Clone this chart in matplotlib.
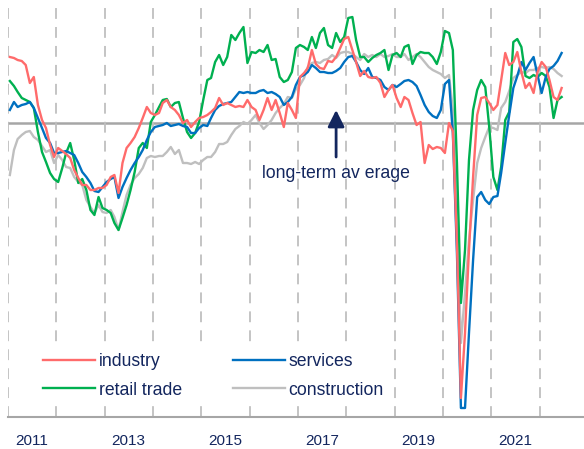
import matplotlib
matplotlib.use("Agg")
import matplotlib.pyplot as plt
import matplotlib.dates as mdates
import pandas as pd

# monthly values, Jan 2011 - Jun 2022 (deviation from long-term average)
months = pd.date_range("2011-01-01", periods=138, freq="MS") + pd.Timedelta(days=14)

industry = [
    6.6, 6.5, 6.3, 6.2, 5.8, 4.0, 4.6, 1.8, 0.3, -0.5, -2.2, -3.4, -2.5, -2.8, -3.1, -3.5, -4.7, -5.5, -6.2,
    -6.2, -6.7, -6.7, -6.5, -6.5, -6.2, -5.4, -5.2, -7.0, -4.0, -2.5, -2.0, -1.4, -0.5, 0.5, 1.6, 1.0, 0.8, 1.0, 2.0,
    2.3, 1.6, 1.3, 0.8, 0.0, 0.3, -0.4, 0.1, 0.5, 0.6, 0.8, 1.1, 1.5, 2.5, 1.8, 2.0, 1.8, 1.6, 1.7, 1.6, 2.3,
    1.6, 1.3, 0.3, 1.3, 2.5, 1.3, 2.3, 1.0, -0.4, 2.0, 1.3, 0.5, 4.6,
    5.0, 5.5, 7.3, 5.9, 5.5, 5.4, 6.2, 6.1, 6.6, 7.5, 8.4, 8.6, 7.3, 6.1, 4.7, 5.2, 4.6, 4.5, 4.6, 4.0, 2.6,
    3.3, 3.8, 2.5, 1.6, 2.6, 2.3, 1.0, -0.2, 0.1, -4.0, -2.2, -2.6, -2.4, -2.5, -3.0,
    0.0, -0.8, -12.0, -27.5, -21.0, -12.7, -5.4, 0.8, 2.5, 2.6, 2.0, 1.3, 1.8, 4.3, 7.0, 5.8, 6.1, 7.1, 5.1,
    3.5, 4.0, 3.0, 5.1, 6.1, 5.6, 4.3, 2.6, 2.3, 3.5,
]
services = [
    1.3, 2.1, 1.6, 1.8, 1.9, 2.1, 1.5, 0.5, -0.5, -1.5, -2.0, -3.0, -3.0, -2.9, -2.8, -3.0, -3.2, -4.0, -4.9,
    -5.4, -6.0, -6.8, -6.9, -6.4, -5.9, -5.6, -5.4, -7.5, -6.4, -5.5, -4.7, -4.0, -3.4, -2.7, -1.7, -0.9, -0.4, -0.3, -0.2,
    0.0, -0.3, -0.2, -0.1, -0.3, -0.4, -1.0, -1.0, -0.5, -0.2, -0.3, 0.5, 1.3, 1.7, 1.9, 2.0, 2.1, 2.6, 3.1, 3.0,
    3.1, 3.0, 3.0, 3.2, 3.3, 3.0, 3.1, 2.9, 2.6, 1.8, 2.1, 2.6, 3.8, 4.6,
    4.8, 5.1, 5.8, 5.5, 5.1, 5.1, 5.0, 5.0, 5.2, 5.5, 6.1, 6.6, 6.7, 6.1, 5.3, 4.9, 5.5, 4.6, 4.5, 4.3, 3.6,
    3.3, 3.8, 3.6, 3.9, 4.2, 4.3, 4.1, 3.7, 2.8, 1.8, 1.1, 0.7, 0.5, 1.3, 3.9,
    4.3, -1.0, -13.0, -28.5, -28.5, -21.0, -13.7, -7.4, -6.9, -7.7, -8.1, -7.4, -7.3, -5.0, -2.0, 0.8, 3.5, 4.7,
    6.1, 5.3, 6.0, 6.6, 4.8, 3.0, 4.6, 5.4, 5.7, 6.2, 7.0,
]
retail = [
    4.2, 3.7, 3.1, 2.5, 2.3, 2.1, 1.5, -0.9, -2.9, -3.9, -5.0, -5.6, -5.9, -4.5, -3.0, -2.0, -3.7, -6.0, -5.6,
    -6.7, -8.7, -9.2, -7.4, -8.5, -8.7, -9.0, -10.0, -10.7, -9.5, -8.2, -6.7, -4.9, -2.5, -2.0, -2.5, 0.1, 0.8, 1.6, 2.3,
    2.4, 1.6, 2.0, 2.1, 0.5, -0.9, -1.5, -1.0, 0.1, 2.3, 4.3, 4.5, 6.1, 6.8, 5.8, 6.6, 8.8, 8.3, 9.0, 9.6,
    6.0, 7.1, 7.0, 7.3, 7.1, 7.8, 6.3, 6.4, 4.6, 4.1, 4.3, 5.1, 7.5, 7.8,
    7.6, 7.3, 8.6, 7.5, 9.0, 9.5, 7.8, 7.5, 9.0, 8.1, 8.6, 10.5, 10.6, 8.3, 6.6, 6.6, 6.1, 6.5, 6.8, 7.0, 7.3,
    5.3, 6.8, 7.0, 6.6, 7.6, 7.8, 5.9, 6.8, 7.1, 7.0, 7.0, 6.6, 5.9, 7.1, 9.2,
    9.0, 7.3, -4.0, -18.0, -12.7, -3.7, 1.3, 3.3, 4.3, 3.6, -0.4, -5.4, -6.7, -4.4, 0.3, 1.1, 8.1, 8.4,
    7.6, 4.7, 4.5, 4.8, 4.6, 5.0, 4.7, 3.6, 0.5, 2.3, 2.6,
]
construction = [
    -5.2, -2.7, -1.6, -1.2, -0.9, -0.8, -1.4, -1.7, -2.3, -2.9, -2.7, -4.0, -3.2, -3.7, -4.4, -4.5, -5.4, -5.9, -6.2,
    -7.7, -8.4, -9.0, -8.2, -8.9, -9.0, -8.7, -9.4, -10.7, -8.9, -7.2, -6.2, -5.5, -5.1, -4.5, -3.5, -3.3, -3.4, -3.3, -3.3,
    -2.9, -2.4, -3.1, -2.7, -4.0, -4.0, -4.1, -3.9, -4.1, -3.7, -3.4, -3.4, -2.9, -2.1, -2.1, -1.9, -1.2, -0.6, -0.3, 0.1,
    -0.1, 0.3, 0.8, 0.0, -0.6, -0.2, 0.3, 1.0, 1.5, 1.9, 2.6, 2.5, 3.4, 3.8,
    4.5, 5.6, 6.0, 6.1, 6.0, 6.3, 6.4, 6.8, 6.5, 7.0, 7.1, 7.1, 6.9, 6.6, 6.3, 6.9, 6.6, 6.8, 6.6, 6.9, 6.6,
    6.7, 6.9, 6.6, 6.6, 6.9, 6.3, 6.6, 6.9, 6.6, 6.1, 5.6, 5.3, 5.1, 4.9, 4.5,
    4.8, 1.3, -9.4, -22.0, -17.0, -11.7, -7.7, -4.0, -2.5, -1.4, -0.4, -0.5, -0.7, 1.5, 2.1, 3.2, 4.5, 4.8,
    5.1, 5.0, 5.3, 5.3, 5.5, 5.6, 5.5, 5.6, 5.4, 5.0, 4.7,
]

year_labels = ["2011", "2013", "2015", "2017", "2019", "2021"]
arrow_date = pd.Timestamp("2017-10-15")

navy = "#13265e"
plt.rcParams["font.family"] = ["Liberation Sans", "DejaVu Sans"]

fig = plt.figure(figsize=(5.84, 4.49), dpi=100)
ax = fig.add_axes([8 / 584, 32 / 449, 576 / 584, 417 / 449])

ax.axhline(0, color="#a6a6a6", lw=1.8, zorder=1)

l4, = ax.plot(months, construction, color="#bfbfbf", lw=1.7, zorder=2, label="construction")
l2, = ax.plot(months, retail, color="#00b050", lw=1.7, zorder=3, label="retail trade")
l3, = ax.plot(months, services, color="#0070c0", lw=1.7, zorder=4, label="services")
l1, = ax.plot(months, industry, color="#ff6b6b", lw=1.7, zorder=5, label="industry")

ax.set_xlim(pd.Timestamp("2011-01-01"), pd.Timestamp("2022-12-01"))
ax.set_ylim(-29.4, 12.3)

# dashed year separators, labels in the middle of odd years
ax.xaxis.set_major_locator(mdates.YearLocator(1))
ax.xaxis.set_major_formatter(plt.NullFormatter())
label_pos = [mdates.date2num(pd.Timestamp(f"{y}-07-01")) for y in year_labels]
ax.xaxis.set_minor_locator(plt.FixedLocator(label_pos))
ax.xaxis.set_minor_formatter(plt.FixedFormatter(year_labels))
ax.tick_params(axis="x", which="both", length=0)
ax.tick_params(axis="x", which="minor", labelsize=11, labelcolor=navy, pad=12)
ax.grid(axis="x", which="major", color="#bfbfbf", lw=1.3, linestyle=(0, (6, 4.5)), zorder=0)
ax.set_yticks([])

for s in ["top", "right", "left"]:
    ax.spines[s].set_visible(False)
ax.spines["bottom"].set_color("#a6a6a6")
ax.spines["bottom"].set_linewidth(1.5)

ax.annotate("", xy=(arrow_date, 1.3), xytext=(arrow_date, -3.4),
            arrowprops=dict(arrowstyle="-|>,head_length=0.5,head_width=0.25", mutation_scale=20,
                            lw=2, color=navy, shrinkA=0, shrinkB=0), zorder=6)
ax.text(arrow_date, -5.0, "long-term av erage", color=navy, fontsize=12.7,
        ha="center", va="center", zorder=6)

leg = ax.legend(handles=[l1, l2, l3, l4], ncol=2, loc="upper left",
                bbox_to_anchor=(28 / 576, (417 - 346) / 417), frameon=True, fontsize=12.7,
                handlelength=2.95, handletextpad=0.2, columnspacing=2.9, labelspacing=0.65,
                borderpad=0.4, borderaxespad=0)
leg.get_frame().set_facecolor("white")
leg.get_frame().set_edgecolor("none")
leg.get_frame().set_alpha(1)
for t in leg.get_texts():
    t.set_color(navy)

fig.savefig("out.png", dpi=100)
